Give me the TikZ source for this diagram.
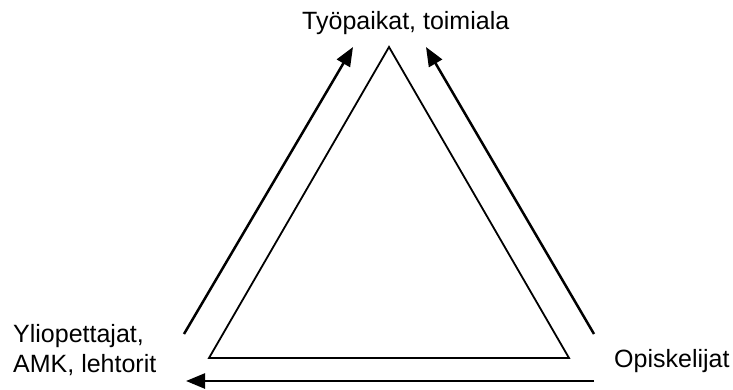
\documentclass[tikz,border=0pt]{standalone}
\usepackage{fontspec}
\setmainfont{Liberation Sans}
\usetikzlibrary{arrows.meta}
\begin{document}
\begin{tikzpicture}[x=1pt,y=-1pt,
  lbl/.style={anchor=base west,inner sep=0pt,font=\fontsize{25}{30}\selectfont},
  tri/.style={draw=black,line width=1.8pt,line join=miter},
  flow/.style={draw=black,line width=2.5pt,-{Triangle[length=19pt,width=15pt]}}]
\useasboundingbox (0,0) rectangle (733,390);
% labels
\node[lbl] (top) at (302,30) {Työpaikat, toimiala};
\node[lbl] (yl1) at (13,342) {Yliopettajat,};
\node[lbl] (yl2) at (13,372) {AMK, lehtorit};
\node[lbl] (op) at (614,367) {Opiskelijat};
% triangle
\coordinate (A) at (389,47);
\coordinate (B) at (209,358);
\coordinate (C) at (569,358);
\draw[tri] (A) -- (B) -- (C) -- cycle;
% arrows
\coordinate (l0) at (184,334);
\coordinate (l1) at (353,47);
\coordinate (r0) at (594,334);
\coordinate (r1) at (426,47);
\coordinate (b0) at (594,381);
\coordinate (b1) at (186,381);
\draw[flow] (l0) -- (l1);
\draw[flow] (r0) -- (r1);
\draw[flow] (b0) -- (b1);
\end{tikzpicture}
\end{document}
